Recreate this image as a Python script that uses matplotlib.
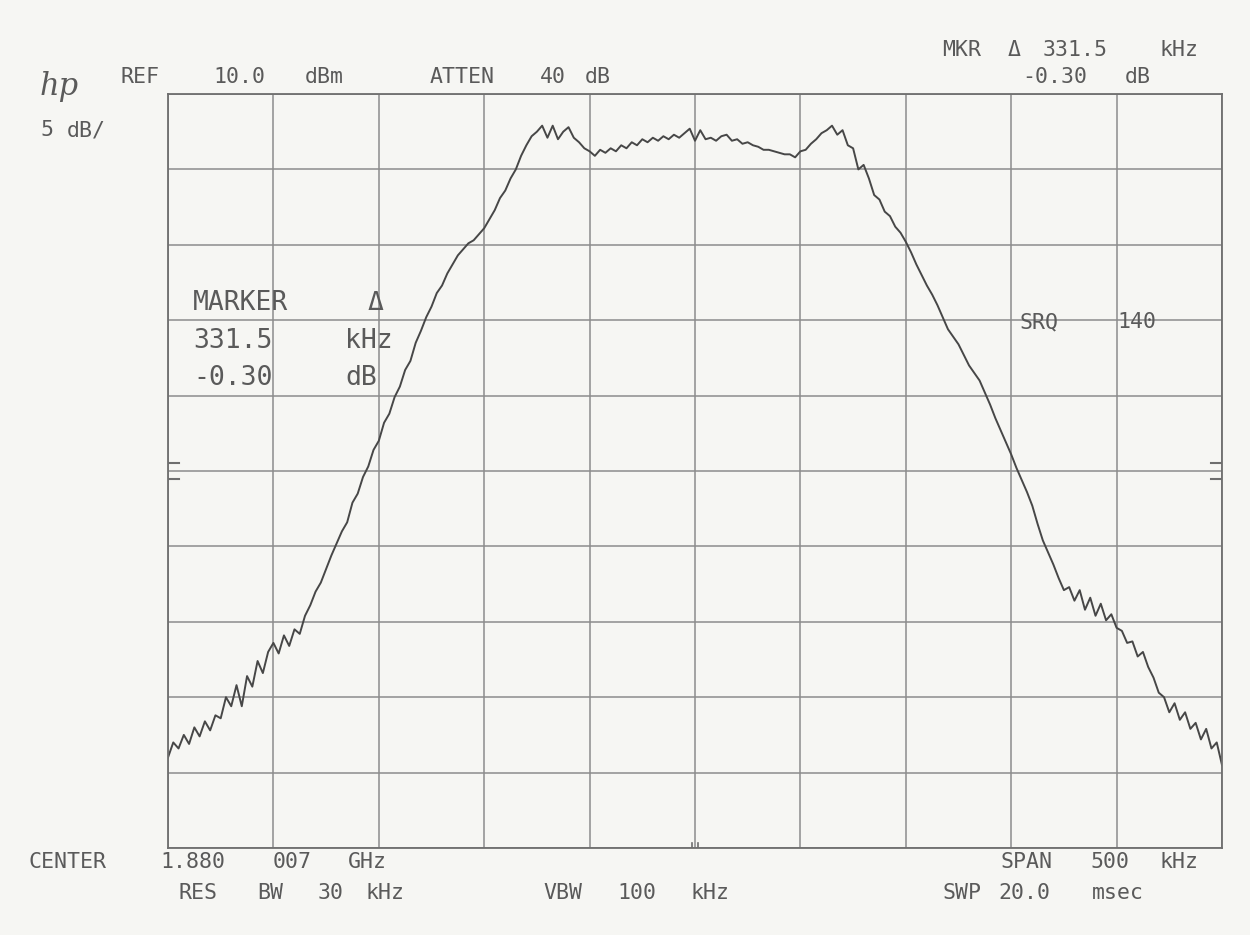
import matplotlib.pyplot as plt
import numpy as np

# analyzer settings
ref_level = 10.0      # dBm, top of screen
db_per_div = 5.0
span_khz = 500.0

# trace, frequency offset from center (kHz) and level (dBm)
freq_khz = np.arange(-250.0, 250.1, 2.5)
level_dbm = [
    -34.0, -33.0, -33.4, -32.5, -33.1, -32.0, -32.6, -31.6, -32.2, -31.2,
    -31.4, -30.0, -30.6, -29.2, -30.6, -28.6, -29.3, -27.6, -28.4, -27.0,
    -26.4, -27.1, -25.9, -26.6, -25.5, -25.8, -24.6, -23.9, -23.0, -22.4,
    -21.5, -20.6, -19.8, -19.0, -18.4, -17.1, -16.5, -15.4, -14.7, -13.6,
    -13.0, -11.8, -11.2, -10.1, -9.4, -8.3, -7.7, -6.5, -5.7, -4.8,
    -4.1, -3.2, -2.7, -1.9, -1.3, -0.7, -0.3, 0.1, 0.3, 0.7,
    1.1, 1.7, 2.3, 3.1, 3.6, 4.4, 5.0, 5.9, 6.6, 7.2,
    7.5, 7.9, 7.1, 7.9, 7.0, 7.5, 7.8, 7.1, 6.8, 6.4,
    6.2, 5.9, 6.3, 6.1, 6.4, 6.2, 6.6, 6.4, 6.8, 6.6,
    7.0, 6.8, 7.1, 6.9, 7.2, 7.0, 7.3, 7.1, 7.4, 7.7,
    6.9,
    7.6, 7.0, 7.1, 6.9, 7.2, 7.3, 6.9, 7.0, 6.7, 6.8,
    6.6, 6.5, 6.3, 6.3, 6.2, 6.1, 6.0, 6.0, 5.8, 6.2,
    6.3, 6.7, 7.0, 7.4, 7.6, 7.9, 7.3, 7.6, 6.6, 6.4,
    5.0, 5.3, 4.4, 3.3, 3.0, 2.2, 1.9, 1.2, 0.8, 0.2,
    -0.5, -1.3, -2.0, -2.7, -3.3, -4.0, -4.8, -5.6, -6.1, -6.6,
    -7.3, -8.0, -8.5, -9.0, -9.8, -10.6, -11.5, -12.3, -13.1, -13.9,
    -14.8, -15.6, -16.4, -17.3, -18.5, -19.6, -20.4, -21.2, -22.1, -22.9,
    -22.7, -23.6, -22.9, -24.2, -23.4, -24.6, -23.8, -24.9, -24.5, -25.4,
    -25.6, -26.4, -26.3, -27.3, -27.0, -28.0, -28.7, -29.7, -30.0, -31.0,
    -30.4, -31.5, -31.0, -32.1, -31.7, -32.8, -32.1, -33.4, -33.0, -34.5,
]

paper = '#f6f6f3'
ink = '#5a5a5a'
grid_c = '#8c8c8c'
mono = 'DejaVu Sans Mono'

fig = plt.figure(figsize=(12.5, 9.35), dpi=100, facecolor=paper)
ax = fig.add_axes([168 / 1250, 87 / 935, 1054 / 1250, 754 / 935])
ax.set_facecolor(paper)

bottom = ref_level - 10 * db_per_div
ax.set_xlim(-span_khz / 2, span_khz / 2)
ax.set_ylim(bottom, ref_level)
ax.set_xticks(np.linspace(-span_khz / 2, span_khz / 2, 11))
ax.set_yticks(np.linspace(bottom, ref_level, 11))
ax.tick_params(length=0, labelbottom=False, labelleft=False)
ax.grid(True, color=grid_c, linewidth=1.1)
for s in ax.spines.values():
    s.set_color('#6e6e6e')
    s.set_linewidth(1.3)

ax.plot(freq_khz, level_dbm, color='#474747', linewidth=1.4)

# reference level markers on the side borders and center tick
for yy in [0.49, 0.51]:
    ax.plot([0, 0.01], [yy, yy], color='#6e6e6e', lw=1.5, transform=ax.transAxes)
    ax.plot([0.99, 1], [yy, yy], color='#6e6e6e', lw=1.5, transform=ax.transAxes)
for xx in [0.497, 0.503]:
    ax.plot([xx, xx], [0, 0.006], color='#6e6e6e', lw=1.2, transform=ax.transAxes)


def label(x, y, s, size=15.5, **kw):
    # x, y in pixels of the 1250x935 picture
    fig.text(x / 1250, 1 - y / 935, s, fontsize=size, color=ink, family=mono,
             va='center', ha='left', **kw)


# header
fig.text(40 / 1250, 1 - 87 / 935, 'hp', fontsize=22, color=ink, family='DejaVu Serif',
         style='italic', va='center', ha='left')
label(121, 77, 'REF')
label(213, 77, '10.0')
label(305, 77, 'dBm')
label(430, 77, 'ATTEN')
label(540, 77, '40')
label(585, 77, 'dB')
label(40, 130, '5')
label(67, 130, 'dB/')

label(942, 50, 'MKR')
label(1008, 50, 'Δ')
label(1043, 50, '331.5')
label(1160, 50, 'kHz')
label(1022, 77, '-0.30')
label(1125, 77, 'dB')

# marker readout on screen
label(193, 303, 'MARKER', size=19)
label(368, 303, 'Δ', size=19)
label(193, 341, '331.5', size=19)
label(345, 341, 'kHz', size=19)
label(193, 378, '-0.30', size=19)
label(345, 378, 'dB', size=19)

label(1020, 322, 'SRQ')
label(1117, 322, '140')

# footer
label(28, 862, 'CENTER')
label(160, 862, '1.880')
label(273, 862, '007')
label(348, 862, 'GHz')
label(1000, 862, 'SPAN')
label(1090, 862, '500')
label(1160, 862, 'kHz')
label(178, 893, 'RES')
label(257, 893, 'BW')
label(318, 893, '30')
label(365, 893, 'kHz')
label(543, 893, 'VBW')
label(617, 893, '100')
label(690, 893, 'kHz')
label(942, 893, 'SWP')
label(998, 893, '20.0')
label(1092, 893, 'msec')

fig.savefig('out.png', dpi=100, facecolor=paper)
